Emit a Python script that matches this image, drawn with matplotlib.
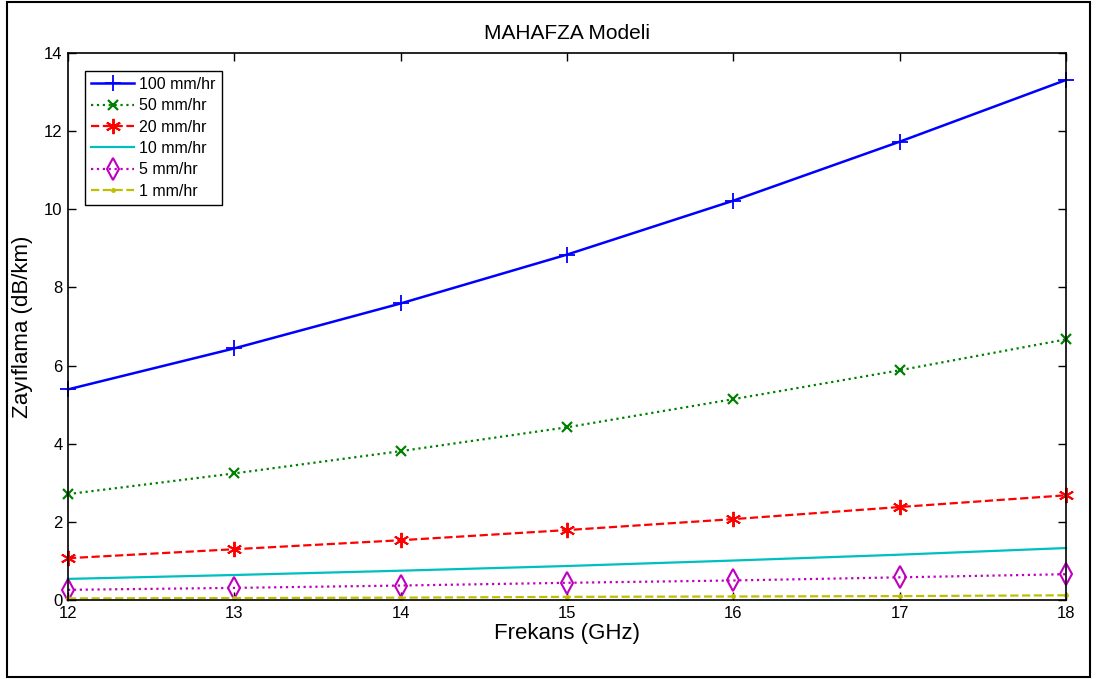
import numpy as np
import matplotlib.pyplot as plt
from matplotlib.patches import Rectangle

plt.rcParams['font.family'] = ['Liberation Sans', 'DejaVu Sans']

# Frekans (GHz)
frekans = [12, 13, 14, 15, 16, 17, 18]

# Zayiflama (dB/km) for each rain rate
r100 = [5.39, 6.44, 7.59, 8.84, 10.22, 11.73, 13.31]
r50 = [2.71, 3.24, 3.81, 4.42, 5.14, 5.88, 6.67]
r20 = [1.07, 1.30, 1.53, 1.79, 2.07, 2.38, 2.68]
r10 = [0.54, 0.64, 0.75, 0.87, 1.01, 1.16, 1.33]
r5 = [0.26, 0.31, 0.37, 0.44, 0.50, 0.58, 0.66]
r1 = [0.04, 0.05, 0.06, 0.08, 0.09, 0.10, 0.12]

labels = ['100 mm/hr', '50 mm/hr', '20 mm/hr', '10 mm/hr', '5 mm/hr', '1 mm/hr']

fig = plt.figure(figsize=(10.97, 6.79), dpi=100)
ax = fig.add_axes([68/1097, 1 - 600/679, (1066 - 68)/1097, (600 - 53)/679])

ax.plot(frekans, r100, color='#0000ff', ls='-', marker='+', ms=12, mew=1.3, lw=1.8, label=labels[0], clip_on=False)
ax.plot(frekans, r50, color='#008000', ls=':', marker='x', ms=7, mew=1.6, lw=1.6, label=labels[1], clip_on=False)
ax.plot(frekans, r20, color='#ff0000', ls='--', marker=(6, 2, 0), ms=11, mew=1.4, lw=1.6, label=labels[2], clip_on=False)
ax.plot(frekans, r10, color='#00bfbf', ls='-', lw=1.6, label=labels[3], clip_on=False)
ax.plot(frekans, r5, color='#bf00bf', ls=':', marker='d', ms=11, mfc='none', mew=1.5, lw=1.6, label=labels[4], clip_on=False)
ax.plot(frekans, r1, color='#bfbf00', ls='--', marker='.', ms=5, lw=1.6, label=labels[5], clip_on=False)

ax.set_xlim(12, 18)
ax.set_ylim(0, 14)
ax.set_xticks(range(12, 19))
ax.set_yticks(range(0, 15, 2))
ax.tick_params(direction='in', top=True, right=True, length=6, width=1, labelsize=12, pad=4)
for s in ax.spines.values():
    s.set_linewidth(1.2)

ax.set_title('MAHAFZA Modeli', fontsize=15, pad=10)
ax.set_xlabel('Frekans (GHz)', fontsize=16, labelpad=2)
ax.set_ylabel('Zayıflama (dB/km)', fontsize=16, labelpad=8)

leg = ax.legend(loc='upper left', bbox_to_anchor=(0.017, 0.968), borderaxespad=0, fontsize=11.5,
                frameon=True, fancybox=False, edgecolor='black', framealpha=1,
                handlelength=2.7, handletextpad=0.3, labelspacing=0.4, borderpad=0.4)
leg.get_frame().set_linewidth(1.0)

# outer border of the figure
fig.patches.append(Rectangle((7/1097, 2/679), 1083/1097, 675/679, transform=fig.transFigure,
                             fill=False, edgecolor='black', lw=1.5))

fig.savefig('out.png', dpi=100)
